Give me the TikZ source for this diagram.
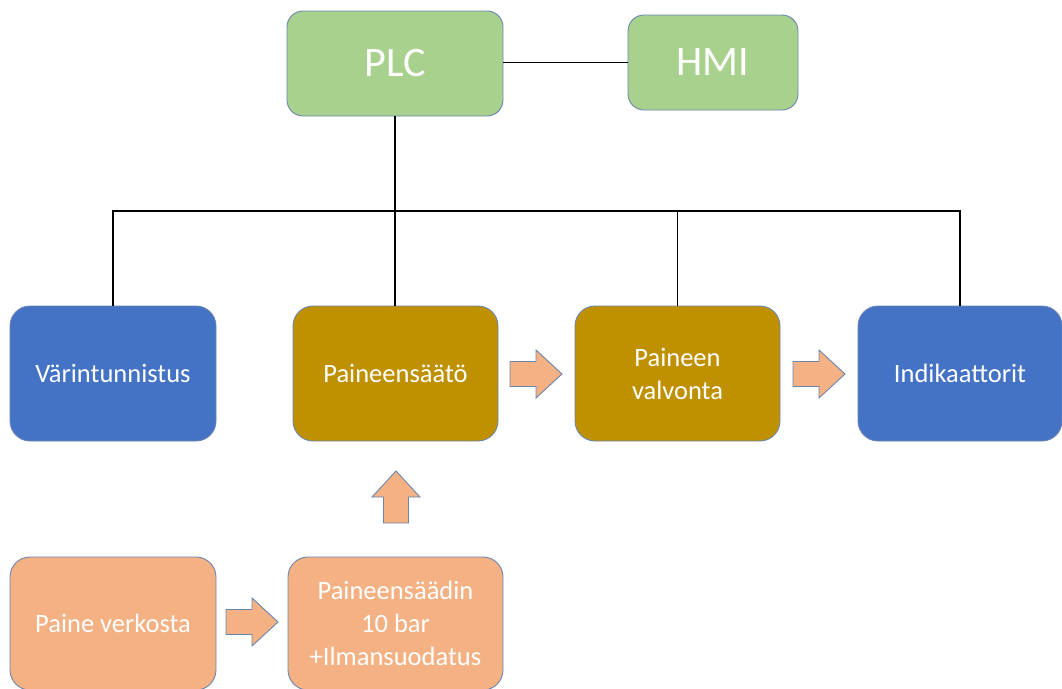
\documentclass[tikz,border=0pt]{standalone}
\usepackage{fontspec}
\setmainfont{Carlito}
\definecolor{boxgreen}{HTML}{A9D18E}
\definecolor{boxblue}{HTML}{4472C4}
\definecolor{boxgold}{HTML}{BF9000}
\definecolor{boxorange}{HTML}{F4B183}
\definecolor{boxline}{HTML}{6A86B0}
\tikzset{
  base/.style={rectangle, draw=boxline, line width=0.9pt, text=white, align=center, inner sep=0pt},
  topbox/.style={base, fill=boxgreen, rounded corners=16pt, font=\fontsize{42}{50}\selectfont},
  midbox/.style={base, rounded corners=20pt, minimum height=135pt, font=\fontsize{26.5}{33}\selectfont},
  lowbox/.style={base, fill=boxorange, rounded corners=20pt, minimum height=133pt, font=\fontsize{26.5}{33}\selectfont},
  link/.style={draw=black, line width=1.8pt},
  barrowstyle/.style={fill=boxorange, draw=boxline, line width=0.9pt, line join=miter},
  barrow/.pic={\draw[barrowstyle] (0,-12.5) -- (26,-12.5) -- (26,-24) -- (52,0) -- (26,24) -- (26,12.5) -- (0,12.5) -- cycle;}
}
\begin{document}
\begin{tikzpicture}[x=1pt,y=-1pt]
\useasboundingbox (0,0) rectangle (1062,688);
\node[topbox, minimum width=216pt, minimum height=105pt] (plc) at (395,63.5) {PLC};
\node[topbox, minimum width=170pt, minimum height=95pt] (hmi) at (713,62.5) {HMI};
\node[midbox, fill=boxblue, minimum width=206pt] (var) at (113,373.5) {Värintunnistus};
\node[midbox, fill=boxgold, minimum width=205pt] (pa) at (395.5,373.5) {Paineensäätö};
\node[midbox, fill=boxgold, minimum width=205pt] (pv) at (677.5,373.5) {Paineen\\valvonta};
\node[midbox, fill=boxblue, minimum width=204pt] (ind) at (960,373.5) {Indikaattorit};
\node[lowbox, minimum width=206pt] (pvk) at (113,623.5) {Paine verkosta};
\node[lowbox, minimum width=215pt] (ps) at (395.5,623.5) {Paineensäädin\\10 bar\\+Ilmansuodatus};
\coordinate (bus) at (0,211);
\draw[link] (plc.east |- hmi.west) -- (hmi.west);
\draw[link] (plc.south) -- (plc.south |- pa.north);
\draw[link] (var.north) -- (var.north |- bus) -- (ind.north |- bus) -- (ind.north);
\draw[link] (pv.north) -- (pv.north |- bus);
\pic at (510,374) {barrow};
\pic at (793,374) {barrow};
\pic at (226,622) {barrow};
\pic[rotate=90] at (396,523) {barrow};
\end{tikzpicture}
\end{document}
